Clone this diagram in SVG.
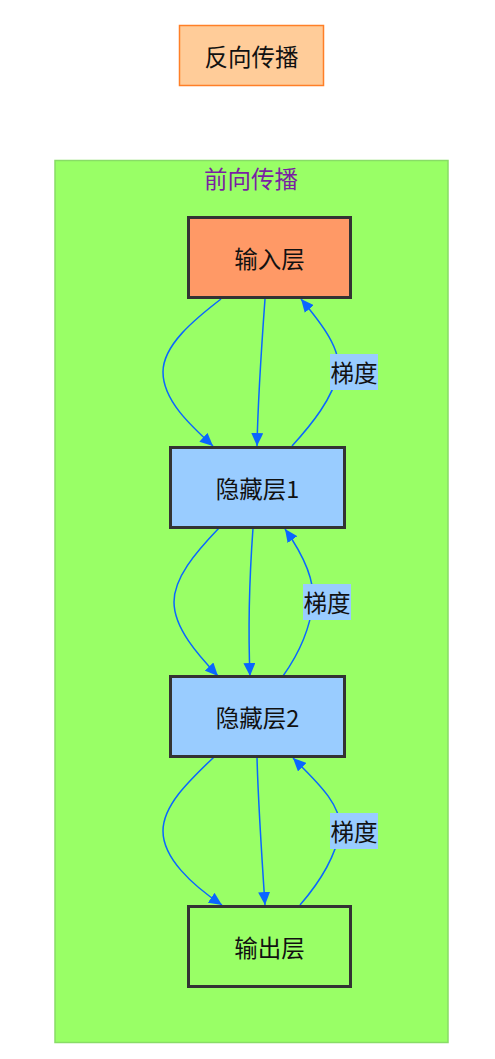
<svg xmlns="http://www.w3.org/2000/svg" width="495" height="1059" viewBox="0 0 495 1059">
<style>
text{font-family:"Noto Sans CJK SC","Noto Sans",sans-serif;font-size:23.5px;fill:#111;text-anchor:middle;dominant-baseline:central}
.node{stroke:#333;stroke-width:3}
.edge{fill:none;stroke:#0a66ff;stroke-width:1.5}
.lbl{fill:#99ccff}
</style>
<defs>
<marker id="arr" markerUnits="userSpaceOnUse" markerWidth="14" markerHeight="12" refX="13" refY="6" orient="auto">
<path d="M0,0 L13,6 L0,12 z" fill="#0a66ff"/>
</marker>
</defs>
<rect width="495" height="1059" fill="#ffffff"/>
<g id="backprop">
<rect x="179.5" y="25.5" width="144" height="60" fill="#ffcc99" stroke="#ff7f27" stroke-width="1.5"/>
<text x="251.5" y="56">反向传播</text>
</g>
<g id="forward-cluster">
<rect x="55" y="160.5" width="393" height="882" fill="#99ff66" stroke="#88dd66" stroke-width="1.5"/>
<text x="251" y="178" style="fill:#7a1fa2">前向传播</text>
</g>
<g id="edges">
<path class="edge" marker-end="url(#arr)" d="M221,299 C195,319 163,345 163,372 C163,400 190,425 213,446"/>
<path class="edge" marker-end="url(#arr)" d="M265,299 C262,340 258,400 257,446"/>
<path class="edge" marker-end="url(#arr)" d="M292,446 C312,424 333,398 338,372 C342,350 322,324 301,299"/>
<path class="edge" marker-end="url(#arr)" d="M219,528 C195,553 174,578 174,602 C174,628 198,655 218,676"/>
<path class="edge" marker-end="url(#arr)" d="M253,528 C250,570 248,630 250,676"/>
<path class="edge" marker-end="url(#arr)" d="M283,676 C298,655 310,630 313,602 C315,578 302,553 285,529"/>
<path class="edge" marker-end="url(#arr)" d="M214,757 C190,780 163,805 163,831 C163,858 192,885 222,905"/>
<path class="edge" marker-end="url(#arr)" d="M257,757 C258,800 262,860 265,905"/>
<path class="edge" marker-end="url(#arr)" d="M300,905 C320,882 335,858 340,831 C343,805 315,780 293,758"/>
<rect class="lbl" x="330" y="354" width="48" height="36"/>
<text x="354" y="372">梯度</text>
<rect class="lbl" x="303" y="584" width="48" height="36"/>
<text x="327" y="602">梯度</text>
<rect class="lbl" x="330" y="813" width="48" height="36"/>
<text x="354" y="831">梯度</text>
</g>
<g id="input">
<rect class="node" x="188.5" y="217.5" width="162" height="80" fill="#ff9966"/>
<text x="269.5" y="258">输入层</text>
</g>
<g id="hidden1">
<rect class="node" x="170.5" y="447.5" width="174" height="80" fill="#99ccff"/>
<text x="257.5" y="488">隐藏层1</text>
</g>
<g id="hidden2">
<rect class="node" x="170.5" y="676.5" width="174" height="80" fill="#99ccff"/>
<text x="257.5" y="717">隐藏层2</text>
</g>
<g id="output">
<rect class="node" x="188.5" y="906.5" width="162" height="80" fill="#99ff66"/>
<text x="269.5" y="947">输出层</text>
</g>
</svg>
